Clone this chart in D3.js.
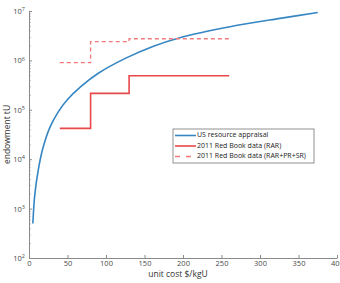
<!DOCTYPE html>
<html>
<head>
<meta charset="utf-8">
<script src="https://cdn.jsdelivr.net/npm/d3@7"></script>
<style>
  body { margin: 0; background: #fff; }
  svg { display: block; }
  .axis path, .axis line { stroke: #8a8a8a; }
  .axis text { fill: #4a4a4a; font-family: "Open Sans", sans-serif; font-size: 7.5px; }
</style>
</head>
<body>
<svg id="chart" width="340" height="283"></svg>
<script>
// US resource appraisal curve, [unit cost, endowment]
const appraisal = [
  [5, 500], [7.5, 1900], [12, 6000], [18, 16600], [27, 43700], [38, 91000],
  [50, 162000], [68, 302000], [90, 550000], [125, 1100000], [160, 1900000],
  [196, 2880000], [261, 4790000], [326, 7080000], [375, 9300000]
]
// Red Book step data
const rarSteps = [[40, 42000], [80, 42000], [80, 215000], [130, 215000], [130, 490000], [260, 490000]]
const totalSteps = [[40, 900000], [80, 900000], [80, 2400000], [130, 2400000], [130, 2750000], [260, 2750000]]

const xTicks = [0, 50, 100, 150, 200, 250, 300, 350, 400]
const yTicks = [1e2, 1e3, 1e4, 1e5, 1e6, 1e7]
const legendLabels = ['US resource appraisal', '2011 Red Book data (RAR)', '2011 Red Book data (RAR+PR+SR)']

const margin = { top: 11, right: 3, bottom: 25, left: 29 }
const svg = d3.select('#chart')
const W = +svg.attr('width')
const H = +svg.attr('height')

const x = d3.scaleLinear().domain([0, 400]).range([margin.left, W - margin.right])
const y = d3.scaleLog().domain([1e2, 1e7]).range([H - margin.bottom, margin.top])

// minor log ticks
const minor = []
for (let e = 2; e < 7; e++) {
  for (let m = 2; m < 10; m++) minor.push(m * Math.pow(10, e))
}

svg.append('g')
  .attr('class', 'axis')
  .attr('transform', `translate(${margin.left},0)`)
  .call(d3.axisLeft(y).tickValues(minor).tickSize(-1.5).tickSizeOuter(0).tickFormat(''))
  .call((g) => g.select('.domain').remove())

const yAxis = svg.append('g')
  .attr('class', 'axis')
  .attr('transform', `translate(${margin.left},0)`)
  .call(d3.axisLeft(y).tickValues(yTicks).tickSize(-3).tickSizeOuter(0).tickPadding(4))

yAxis.selectAll('.tick text')
  .text(null)
  .each(function (d) {
    const t = d3.select(this)
    t.append('tspan').text('10')
    t.append('tspan')
      .attr('dy', '-0.5em')
      .attr('font-size', '5.5px')
      .text(Math.round(Math.log10(d)))
  })

svg.append('g')
  .attr('class', 'axis')
  .attr('transform', `translate(0,${H - margin.bottom})`)
  .call(d3.axisBottom(x).tickValues(xTicks).tickSize(-3).tickSizeOuter(0).tickPadding(3))

// axis labels
svg.append('text')
  .attr('x', 178)
  .attr('y', H - 8.5)
  .attr('text-anchor', 'middle')
  .attr('dominant-baseline', 'middle')
  .attr('font-family', '"Open Sans", sans-serif')
  .attr('font-size', '8.5px')
  .attr('fill', '#333')
  .text('unit cost $/kgU')

svg.append('text')
  .attr('transform', `translate(8,${(margin.top + H - margin.bottom) / 2}) rotate(-90)`)
  .attr('text-anchor', 'middle')
  .attr('dominant-baseline', 'middle')
  .attr('font-family', '"Open Sans", sans-serif')
  .attr('font-size', '8.5px')
  .attr('fill', '#333')
  .text('endowment tU')

const line = d3.line()
  .x((d) => x(d[0]))
  .y((d) => y(d[1]))

const styles = [
  { color: '#3586c3', width: 1.6, dash: null },
  { color: '#e8484a', width: 1.6, dash: null },
  { color: '#f07a7c', width: 1.4, dash: '4,3' }
]

svg.append('path')
  .datum(appraisal)
  .attr('fill', 'none')
  .attr('stroke', styles[0].color)
  .attr('stroke-width', styles[0].width)
  .attr('d', line.curve(d3.curveCatmullRom))

line.curve(d3.curveLinear)
;[rarSteps, totalSteps].forEach(function (pts, i) {
  svg.append('path')
    .datum(pts)
    .attr('fill', 'none')
    .attr('stroke', styles[i + 1].color)
    .attr('stroke-width', styles[i + 1].width)
    .attr('stroke-dasharray', styles[i + 1].dash)
    .attr('d', line)
})

// legend
const legend = svg.append('g').attr('transform', 'translate(173,129)')
legend.append('rect')
  .attr('width', 141)
  .attr('height', 34)
  .attr('fill', '#fff')
  .attr('stroke', '#777')
  .attr('stroke-width', 0.8)

legendLabels.forEach(function (label, i) {
  const row = legend.append('g').attr('transform', `translate(0,${6.5 + i * 10.5})`)
  row.append('line')
    .attr('x1', 2).attr('x2', 23)
    .attr('stroke', styles[i].color)
    .attr('stroke-width', styles[i].width)
    .attr('stroke-dasharray', i === 2 ? '5,6' : null)
  row.append('text')
    .attr('x', 24)
    .attr('dominant-baseline', 'middle')
    .attr('font-family', '"Open Sans", sans-serif')
    .attr('font-size', '7px')
    .attr('fill', '#222')
    .text(label)
})
</script>
</body>
</html>
